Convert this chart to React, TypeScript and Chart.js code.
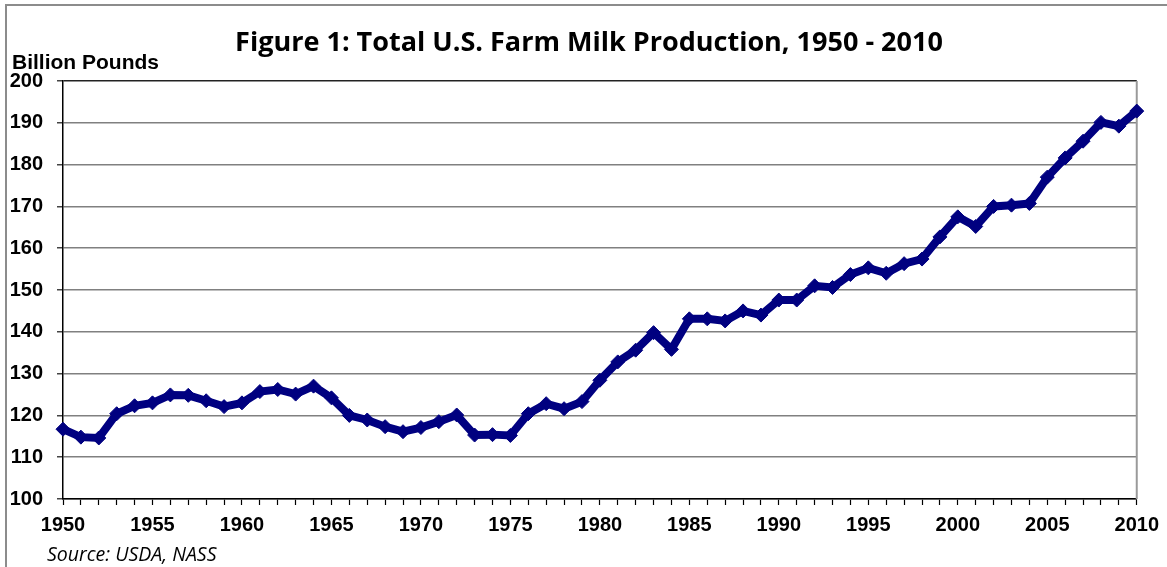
import React, { useEffect, useRef } from 'react';
import { Chart, registerables } from 'chart.js';
Chart.register(...registerables);

const years = [
  '1950','1951','1952','1953','1954','1955','1956','1957','1958','1959',
  '1960','1961','1962','1963','1964','1965','1966','1967','1968','1969',
  '1970','1971','1972','1973','1974','1975','1976','1977','1978','1979',
  '1980','1981','1982','1983','1984','1985','1986','1987','1988','1989',
  '1990','1991','1992','1993','1994','1995','1996','1997','1998','1999',
  '2000','2001','2002','2003','2004','2005','2006','2007','2008','2009','2010',
];

const milkProduction = [
  116.7, 114.8, 114.6, 120.4, 122.3, 123.0, 124.9, 124.8, 123.5, 122.1,
  123.0, 125.7, 126.2, 125.1, 127.0, 124.2, 120.0, 118.9, 117.3, 116.1,
  117.1, 118.5, 120.1, 115.3, 115.4, 115.2, 120.4, 122.8, 121.6, 123.3,
  128.4, 132.8, 135.6, 139.8, 135.8, 143.1, 143.1, 142.6, 145.0, 144.0,
  147.6, 147.6, 151.0, 150.6, 153.7, 155.3, 154.0, 156.3, 157.4, 162.7,
  167.5, 165.2, 170.0, 170.3, 170.7, 177.0, 181.6, 185.6, 190.1, 189.2, 192.8,
];

const yMin = 100;
const yMax = 200;
const yStep = 10;
const labelEvery = 5;

const titleText = 'Figure 1: Total U.S. Farm Milk Production, 1950 - 2010';
const yAxisTitle = 'Billion Pounds';
const sourceText = 'Source: USDA, NASS';

const textPlugin = {
  id: 'textPlugin',
  beforeDatasetsDraw(chart: any) {
    const { ctx, chartArea } = chart;
    ctx.save();
    ctx.strokeStyle = '#9a9a9a';
    ctx.lineWidth = 2;
    ctx.beginPath();
    ctx.moveTo(chartArea.right, chartArea.top);
    ctx.lineTo(chartArea.right, chartArea.bottom);
    ctx.stroke();
    ctx.restore();
  },
  afterDraw(chart: any) {
    const { ctx } = chart;
    ctx.save();
    ctx.fillStyle = '#000';
    ctx.textBaseline = 'alphabetic';
    ctx.textAlign = 'center';
    ctx.font = 'bold 100px "Open Sans", Lato, sans-serif';
    const w100 = ctx.measureText(titleText).width;
    const titleSize = Math.max(10, Math.min(40, (100 * 708) / w100));
    ctx.font = `bold ${titleSize.toFixed(2)}px "Open Sans", Lato, sans-serif`;
    ctx.fillText(titleText, 589, 51);
    ctx.textAlign = 'left';
    ctx.font = 'bold 21px "Liberation Sans", Arial, sans-serif';
    ctx.fillText(yAxisTitle, 12, 69);
    ctx.font = 'italic 19.5px "Open Sans", Lato, sans-serif';
    ctx.fillText(sourceText, 47, 561);
    ctx.restore();
  },
};

export default function App() {
  const canvasRef = useRef<HTMLCanvasElement | null>(null);

  useEffect(() => {
    if (!canvasRef.current) return;
    const chart = new Chart(canvasRef.current, {
      type: 'line',
      data: {
        labels: years,
        datasets: [
          {
            data: milkProduction,
            borderColor: '#000080',
            backgroundColor: '#000080',
            borderWidth: 8,
            pointStyle: 'rectRot',
            pointRadius: 7,
            pointBorderWidth: 1,
            pointBackgroundColor: '#000080',
            pointBorderColor: '#000080',
            tension: 0,
            clip: false as any,
          },
        ],
      },
      options: {
        animation: false,
        responsive: false,
        devicePixelRatio: 1,
        layout: { padding: { left: 0, right: 24, top: 81, bottom: 0 } },
        plugins: {
          legend: { display: false },
          tooltip: { enabled: false },
          title: { display: false },
        },
        scales: {
          x: {
            type: 'category',
            offset: false,
            afterFit(scale: any) {
              scale.height = 68;
            },
            grid: {
              drawOnChartArea: false,
              drawTicks: true,
              tickLength: 6,
              tickColor: '#000',
              tickWidth: 1.2,
            },
            border: { display: true, color: '#000', width: 1.5 },
            ticks: {
              autoSkip: false,
              maxRotation: 0,
              minRotation: 0,
              padding: 8,
              color: '#000',
              font: { family: '"Liberation Sans", Arial, sans-serif', weight: 'bold', size: 20 },
              callback(value: any, index: number) {
                const lab = years[index];
                return Number(lab) % labelEvery === 0 ? lab : '';
              },
            },
          },
          y: {
            min: yMin,
            max: yMax,
            afterFit(scale: any) {
              scale.width = 63;
            },
            grid: {
              color: (c: any) => (c.tick && c.tick.value === yMax ? '#222' : '#808080'),
              lineWidth: 1.5,
              drawTicks: true,
              tickLength: 6,
              tickColor: '#444',
            },
            border: { display: true, color: '#000', width: 1.5 },
            ticks: {
              stepSize: yStep,
              padding: 14,
              color: '#000',
              font: { family: '"Liberation Sans", Arial, sans-serif', weight: 'bold', size: 20 },
            },
          },
        },
      },
      plugins: [textPlugin],
    });
    return () => chart.destroy();
  }, []);

  return (
    <div style={{ position: 'fixed', left: 0, top: 0, width: 1167, height: 567, background: '#fff', overflow: 'hidden' }}>
      <div
        style={{
          position: 'absolute',
          left: 5,
          top: 4,
          width: 1200,
          height: 600,
          borderLeft: '2px solid #8c8c8c',
          borderTop: '2px solid #8c8c8c',
        }}
      />
      <canvas ref={canvasRef} width={1167} height={567} style={{ position: 'absolute', left: 0, top: 0 }} />
    </div>
  );
}
